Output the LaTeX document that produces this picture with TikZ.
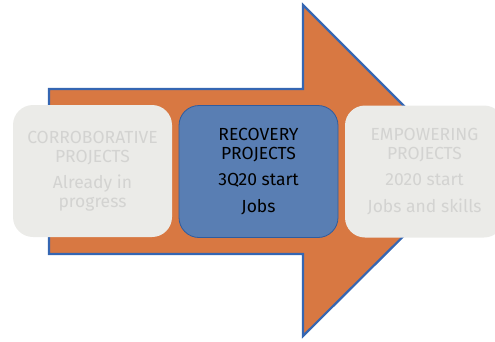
\documentclass[tikz,border=0pt]{standalone}
\usepackage{fontspec}
\setmainfont{Fira Sans}
\definecolor{arroworange}{HTML}{D87842}
\definecolor{arrowblue}{HTML}{3566B2}
\definecolor{boxgrey}{HTML}{EBEBE8}
\definecolor{txtgrey}{HTML}{D3D3D1}
\definecolor{boxblue}{HTML}{597EB3}
\definecolor{boxblueline}{HTML}{2F5C9F}
\begin{document}
\begin{tikzpicture}[x=1pt,y=-1pt,
  stagebox/.style={rounded corners=20pt, minimum width=159pt, minimum height=132pt, inner sep=0pt, align=center, font=\fontsize{17.5}{19.5}\selectfont},
  greybox/.style={stagebox, fill=boxgrey, text=txtgrey},
  bluebox/.style={stagebox, fill=boxblue, draw=boxblueline, line width=0.8pt, text=black}]
\useasboundingbox (0,0) rectangle (495,341);
\draw[fill=arroworange, draw=arrowblue, line width=2.2pt, line join=miter]
  (49,89) -- (303,89) -- (303,5) -- (469,171) -- (303,336) -- (303,254) -- (49,254) -- cycle;
\begin{scope}
\clip (0,0) rectangle (495,341);
\node[greybox] (left) at (92.5,171) {CORROBORATIVE\\PROJECTS\\[6pt]Already in\\progress};
\node[bluebox] (mid) at (258.5,171.5) {RECOVERY\\PROJECTS\\[6.5pt]3Q20 start\\[7.5pt]Jobs};
\node[greybox] (right) at (424.5,171.5) {EMPOWERING\\PROJECTS\\[6.5pt]2020 start\\[7.5pt]Jobs and skills};
\end{scope}
\end{tikzpicture}
\end{document}
